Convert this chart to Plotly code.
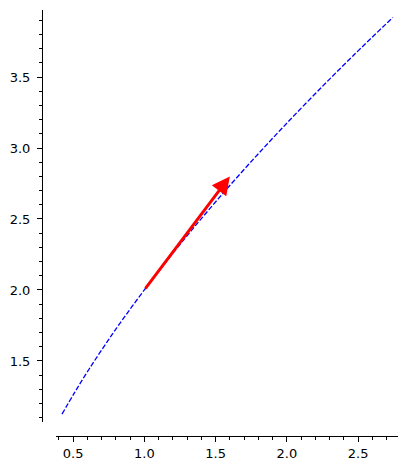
import plotly.graph_objects as go

# Curve points
curve_x = [0.422, 0.512, 0.614, 0.729, 0.857, 1.000, 1.158, 1.331, 1.521, 1.728, 1.953, 2.197, 2.460, 2.744]
curve_y = [1.125, 1.280, 1.445, 1.620, 1.805, 2.000, 2.205, 2.420, 2.645, 2.880, 3.125, 3.380, 3.645, 3.920]

# Arrow (tail -> head)
arrow_tail = [1.0, 2.0]
arrow_head = [1.6, 2.8]

W, H = 408, 470

fig = go.Figure()
fig.add_trace(go.Scatter(
    x=curve_x, y=curve_y, mode="lines",
    line=dict(color="#0000ff", width=1.3, dash="5px,2px", shape="spline"),
    showlegend=False, hoverinfo="skip",
))

fig.add_annotation(
    x=arrow_head[0], y=arrow_head[1], ax=arrow_tail[0], ay=arrow_tail[1],
    xref="x", yref="y", axref="x", ayref="y",
    text="", showarrow=True, arrowhead=2, arrowsize=1.2, arrowwidth=3,
    arrowcolor="#ff0000", standoff=0, startstandoff=0,
)

font = dict(family="DejaVu Sans", size=13, color="#000000")
fig.update_layout(
    width=W, height=H,
    margin=dict(l=0, r=0, t=0, b=0),
    paper_bgcolor="white", plot_bgcolor="white",
    showlegend=False,
    xaxis=dict(
        domain=[56 / W, 398 / W], range=[0.380, 2.780],
        anchor="free", position=34 / H,
        showgrid=False, zeroline=False,
        showline=True, linecolor="black", linewidth=1.1,
        ticks="outside", ticklen=5, tickwidth=1.1, tickcolor="black",
        tick0=0, dtick=0.5, tickformat=".1f",
        tickfont=font, automargin=False, ticklabelstandoff=0,
        minor=dict(ticks="outside", ticklen=3, tickwidth=0.8, tickcolor="black", tick0=0, dtick=0.1, showgrid=False),
    ),
    yaxis=dict(
        domain=[48 / H, 460 / H], range=[1.070, 3.972],
        anchor="free", position=42 / W,
        showgrid=False, zeroline=False,
        showline=True, linecolor="black", linewidth=1.1,
        ticks="outside", ticklen=5, tickwidth=1.1, tickcolor="black",
        tick0=0, dtick=0.5, tickformat=".1f",
        tickfont=font, automargin=False, ticklabelstandoff=4,
        minor=dict(ticks="outside", ticklen=3, tickwidth=0.8, tickcolor="black", tick0=0, dtick=0.1, showgrid=False),
    ),
)

fig.write_html(
    "out.html",
    config={"displayModeBar": False},
    post_script="document.body.style.margin='0';document.body.style.overflow='hidden';",
)
